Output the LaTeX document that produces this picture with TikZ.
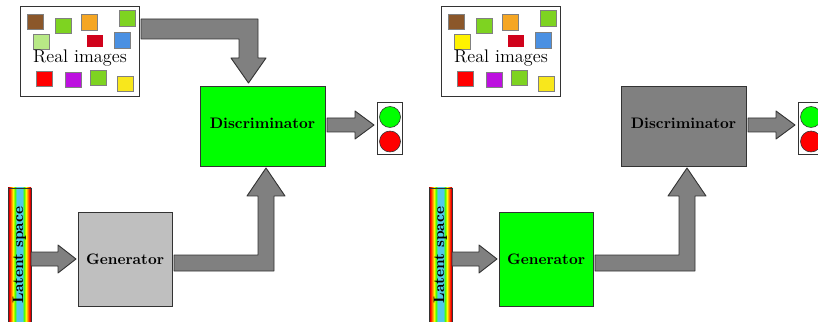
\documentclass[tikz,border=0pt]{standalone}
\usepackage{tikz, tkz-euclide}

\definecolor{sbrown}{HTML}{8B572A}
\definecolor{sgreen}{HTML}{7ED321}
\definecolor{sorange}{HTML}{F5A623}
\definecolor{slight}{HTML}{B8E986}
\definecolor{scrimson}{HTML}{D0021B}
\definecolor{sblue}{HTML}{4A90E2}
\definecolor{spurple}{HTML}{BD10E0}
\definecolor{syellow}{HTML}{F8E71C}
\definecolor{sky}{RGB}{80,200,235}
\pgfdeclarehorizontalshading{rainbowbar}{100bp}{color(0bp)=(red!60!black); color(25bp)=(red!60!black);
  color(28bp)=(red); color(32bp)=(orange); color(36bp)=(yellow); color(40bp)=(green!70!yellow);
  color(44bp)=(sky); color(56bp)=(sky); color(60bp)=(green!70!yellow); color(64bp)=(yellow);
  color(68bp)=(orange); color(72bp)=(red); color(75bp)=(red!60!black); color(100bp)=(red!60!black)}
\tikzset{box/.style={draw=black!80, line width=0.6pt, font=\bfseries},
  fat/.style={draw=black!80, fill=gray, line width=0.6pt},
  sq/.style={draw=gray, line width=0.5pt}}

\begin{document}
\begin{tikzpicture}[x=0.6579pt, y=-0.6579pt]
    \useasboundingbox (0,0) rectangle (818,322);
    % training the discriminator
    \node[box, fill=white, minimum width=78.3pt, minimum height=59.2pt] (real) at (79.5,51) {};
    \draw[sq, fill=sbrown] (27,14) rectangle +(16,15);
    \draw[sq, fill=sgreen] (55,18) rectangle +(16,15);
    \draw[sq, fill=sorange] (81,14) rectangle +(16,16);
    \draw[sq, fill=sgreen] (119,10) rectangle +(16,16);
    \draw[sq, fill=slight] (33,34) rectangle +(16,15);
    \fill[scrimson] (87,35) rectangle +(16,12);
    \draw[sq, fill=sblue] (114,32) rectangle +(16,16);
    \draw[sq, fill=red] (36,71) rectangle +(16,15);
    \draw[sq, fill=spurple] (65,72) rectangle +(16,15);
    \draw[sq, fill=sgreen] (90,70) rectangle +(16,15);
    \draw[sq, fill=syellow] (117,76) rectangle +(16,15);
    \node[font=\large] (realtxt) at (80,58) {Real images};
    \node[box, fill=green, minimum width=82.2pt, minimum height=52.6pt, text depth=4pt] (disc) at (262.5,126) {Discriminator};
    \node[box, fill=gray!50, minimum size=61.8pt] (gen) at (125,259) {Generator};
    \shade[shading=rainbowbar, draw=black!80] (8,188) rectangle (31,330);
    \node[font=\bfseries, rotate=90] (latent) at (19.5,255) {Latent space};
    \node[box, fill=white, minimum width=16.4pt, minimum height=34.2pt] (light) at (389.5,128) {};
    \node[circle, draw=black!80, fill=green, minimum size=13.8pt, inner sep=0pt] (go) at (390,117) {};
    \node[circle, draw=black!80, fill=red, minimum size=13.8pt, inner sep=0pt] (stop) at (390,141.5) {};
    \tkzDefPoints{141/19/A1, 258/19/A2, 258/58/A3, 266/58/A4, 248.5/83/A5, 231/58/A6, 239/58/A7, 239/39/A8, 141/39/A9}
    \tkzDefPoints{31/252/B1, 58/252/B2, 58/245/B3, 76/259/B4, 58/273/B5, 58/266/B6, 31/266/B7}
    \tkzDefPoints{174/255/C1, 258/255/C2, 258/196/C3, 247/196/C4, 266/168/C5, 285/196/C6, 274/196/C7, 274/271/C8, 174/271/C9}
    \tkzDefPoints{327/118/D1, 355/118/D2, 355/111/D3, 374/125/D4, 355/139/D5, 355/132/D6, 327/132/D7}
    \tkzDrawPolygon[fat](A1,A2,A3,A4,A5,A6,A7,A8,A9)
    \tkzDrawPolygon[fat](B1,B2,B3,B4,B5,B6,B7)
    \tkzDrawPolygon[fat](C1,C2,C3,C4,C5,C6,C7,C8,C9)
    \tkzDrawPolygon[fat](D1,D2,D3,D4,D5,D6,D7)
    % training the generator
    \begin{scope}[shift={(421,0)}]
    \node[box, fill=white, minimum width=78.3pt, minimum height=59.2pt] (real2) at (79.5,51) {};
    \draw[sq, fill=sbrown] (27,14) rectangle +(16,15);
    \draw[sq, fill=sgreen] (55,18) rectangle +(16,15);
    \draw[sq, fill=sorange] (81,14) rectangle +(16,16);
    \draw[sq, fill=sgreen] (119,10) rectangle +(16,16);
    \draw[sq, fill=yellow] (33,34) rectangle +(16,15);
    \fill[scrimson] (87,35) rectangle +(16,12);
    \draw[sq, fill=sblue] (114,32) rectangle +(16,16);
    \draw[sq, fill=red] (36,71) rectangle +(16,15);
    \draw[sq, fill=spurple] (65,72) rectangle +(16,15);
    \draw[sq, fill=sgreen] (90,70) rectangle +(16,15);
    \draw[sq, fill=syellow] (117,76) rectangle +(16,15);
    \node[font=\large] (realtxt2) at (80,58) {Real images};
    \node[box, fill=gray, minimum width=82.2pt, minimum height=52.6pt, text depth=4pt] (disc2) at (262.5,126) {Discriminator};
    \node[box, fill=green, minimum size=61.8pt] (gen2) at (125,259) {Generator};
    \shade[shading=rainbowbar, draw=black!80] (8,188) rectangle (31,330);
    \node[font=\bfseries, rotate=90] (latent2) at (19.5,255) {Latent space};
    \node[box, fill=white, minimum width=16.4pt, minimum height=34.2pt] (light2) at (389.5,128) {};
    \node[circle, draw=black!80, fill=green, minimum size=13.8pt, inner sep=0pt] (go2) at (390,117) {};
    \node[circle, draw=black!80, fill=red, minimum size=13.8pt, inner sep=0pt] (stop2) at (390,141.5) {};
    \tkzDefPoints{31/252/B1, 58/252/B2, 58/245/B3, 76/259/B4, 58/273/B5, 58/266/B6, 31/266/B7}
    \tkzDefPoints{174/255/C1, 258/255/C2, 258/196/C3, 247/196/C4, 266/168/C5, 285/196/C6, 274/196/C7, 274/271/C8, 174/271/C9}
    \tkzDefPoints{327/118/D1, 355/118/D2, 355/111/D3, 374/125/D4, 355/139/D5, 355/132/D6, 327/132/D7}
    \tkzDrawPolygon[fat](B1,B2,B3,B4,B5,B6,B7)
    \tkzDrawPolygon[fat](C1,C2,C3,C4,C5,C6,C7,C8,C9)
    \tkzDrawPolygon[fat](D1,D2,D3,D4,D5,D6,D7)
    \end{scope}
\end{tikzpicture}
\end{document}
